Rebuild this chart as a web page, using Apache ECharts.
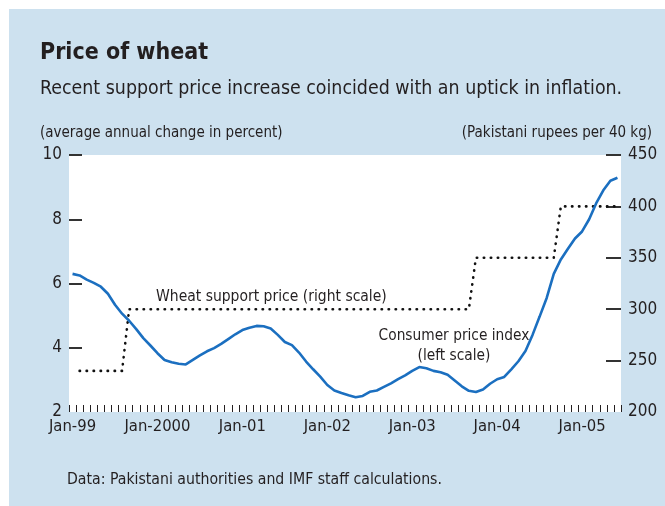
<!DOCTYPE html>
<html>
<head>
<meta charset="utf-8">
<script src="https://cdn.jsdelivr.net/npm/echarts@6/dist/echarts.min.js"></script>
<style>
  html, body { margin: 0; padding: 0; background: #fff; }
  #wrap { position: relative; width: 665px; height: 506px; }
  #panel { position: absolute; left: 9px; top: 9px; right: 0; bottom: 0; background: #cde1ef; }
  #chart { position: absolute; left: 0; top: 0; width: 665px; height: 506px; }
</style>
</head>
<body>
<div id="wrap">
  <div id="panel"></div>
  <div id="chart"></div>
</div>
<script>
// month axis: Jan-99 .. Jun-05
const years = ['99', '2000', '01', '02', '03', '04', '05'];
const monthNames = ['Jan', 'Feb', 'Mar', 'Apr', 'May', 'Jun', 'Jul', 'Aug', 'Sep', 'Oct', 'Nov', 'Dec'];
const tickLabels = ['Jan-99', 'Jan-2000', 'Jan-01', 'Jan-02', 'Jan-03', 'Jan-04', 'Jan-05'];

// consumer price index, average annual change in percent (left scale)
const cpi = [
  6.30, 6.25, 6.12, 6.02, 5.90, 5.68, 5.34, 5.06, 4.84, 4.58, 4.30, 4.07,
  3.83, 3.62, 3.55, 3.50, 3.48, 3.62, 3.76, 3.89, 3.99, 4.12, 4.27, 4.42,
  4.55, 4.62, 4.68, 4.67, 4.60, 4.40, 4.18, 4.08, 3.85, 3.57, 3.33, 3.10,
  2.84, 2.67, 2.59, 2.52, 2.46, 2.50, 2.63, 2.67, 2.78, 2.89, 3.02, 3.14,
  3.28, 3.40, 3.36, 3.28, 3.24, 3.16, 2.98, 2.80, 2.66, 2.62, 2.70, 2.88,
  3.02, 3.09, 3.33, 3.58, 3.90, 4.40, 4.97, 5.55, 6.30, 6.75, 7.08, 7.40,
  7.62, 8.00, 8.50, 8.90, 9.20, 9.29
];

// wheat support price, Pakistani rupees per 40 kg (right scale)
const support = [
  null, 240, 240, 240, 240, 240, 240, 240, 300, 300, 300, 300,
  300, 300, 300, 300, 300, 300, 300, 300, 300, 300, 300, 300,
  300, 300, 300, 300, 300, 300, 300, 300, 300, 300, 300, 300,
  300, 300, 300, 300, 300, 300, 300, 300, 300, 300, 300, 300,
  300, 300, 300, 300, 300, 300, 300, 300, 300, 350, 350, 350,
  350, 350, 350, 350, 350, 350, 350, 350, 350, 400, 400, 400,
  400, 400, 400, 400, 400, 400
];

let months = [];
for (let y = 0; y < years.length; y++) {
    for (let m = 0; m < 12; m++) {
        months.push(monthNames[m] + '-' + years[y]);
    }
}
months = months.slice(0, cpi.length);

const font = "'Liberation Sans Narrow', 'DejaVu Sans Condensed', sans-serif";
const ink = '#231f20';

let chart = echarts.init(document.getElementById('chart'));
chart.setOption({
    backgroundColor: 'transparent',
    animation: false,
    textStyle: { fontFamily: font, color: ink },
    title: [
        { text: 'Price of wheat', left: 35, top: 37,
          textStyle: { fontFamily: font, fontSize: 23, fontWeight: 'bold', color: ink } },
        { text: 'Recent support price increase coincided with an uptick in inflation.', left: 35, top: 74,
          textStyle: { fontFamily: font, fontSize: 19.4, fontWeight: 'normal', color: ink } },
        { text: '(average annual change in percent)', left: 35, top: 121,
          textStyle: { fontFamily: font, fontSize: 15, fontWeight: 'normal', color: ink } },
        { text: '(Pakistani rupees per 40 kg)', right: 8, top: 121,
          textStyle: { fontFamily: font, fontSize: 15, fontWeight: 'normal', color: ink } },
        { text: 'Data: Pakistani authorities and IMF staff calculations.', left: 62, top: 467,
          textStyle: { fontFamily: font, fontSize: 15.7, fontWeight: 'normal', color: ink } },
        { text: 'Wheat support price (right scale)', left: 151, top: 284,
          textStyle: { fontFamily: font, fontSize: 15.5, fontWeight: 'normal', color: ink } },
        { text: 'Consumer price index\n(left scale)', left: 449, top: 321, textAlign: 'center',
          textStyle: { fontFamily: font, fontSize: 15.3, fontWeight: 'normal', color: ink, lineHeight: 20, align: 'center' } }
    ],
    grid: {
        left: 69, right: 44, top: 155, bottom: 94,
        show: true, backgroundColor: '#ffffff', borderWidth: 0
    },
    xAxis: {
        type: 'category',
        data: months,
        boundaryGap: true,
        axisLine: { show: false },
        axisTick: { show: true, inside: true, length: 7, interval: 0, lineStyle: { color: ink, width: 1 } },
        axisLabel: {
            margin: 6, fontSize: 16.5, color: ink, fontFamily: font,
            interval: function (i) { return i % 12 === 0; },
            formatter: function (v, i) { return tickLabels[Math.floor(i / 12)]; }
        },
        splitLine: { show: false }
    },
    yAxis: [
        {
            type: 'value', min: 2, max: 10, interval: 2,
            axisLine: { show: false },
            axisTick: { show: true, inside: true, length: 13, customValues: [4, 6, 8, 10], lineStyle: { color: '#333', width: 2 } },
            axisLabel: { margin: 7, fontSize: 17, color: ink, fontFamily: font },
            splitLine: { show: false }
        },
        {
            type: 'value', min: 200, max: 450, interval: 50, position: 'right',
            axisLine: { show: false },
            axisTick: { show: true, inside: true, length: 15, customValues: [250, 300, 350, 400, 450], lineStyle: { color: '#333', width: 2 } },
            axisLabel: { margin: 7, fontSize: 17, color: ink, fontFamily: font },
            splitLine: { show: false }
        }
    ],
    series: [
        {
            name: 'Wheat support price', type: 'line', yAxisIndex: 1,
            data: support, showSymbol: false, connectNulls: false,
            lineStyle: { color: '#111', width: 2.6, type: [0.4, 6.6], cap: 'round' },
            z: 2
        },
        {
            name: 'Consumer price index', type: 'line', yAxisIndex: 0,
            data: cpi, showSymbol: false,
            lineStyle: { color: '#1b6fc0', width: 2.6 },
            z: 3
        }
    ]
});
</script>
</body>
</html>
